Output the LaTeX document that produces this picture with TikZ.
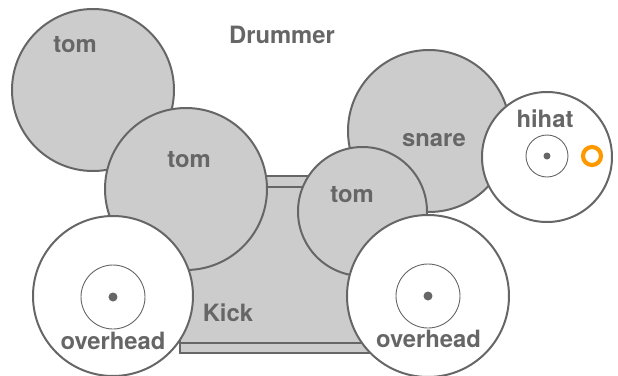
\documentclass[tikz,border=0pt]{standalone}
\usepackage{fontspec}
\setmainfont{TeX Gyre Heros}
\usetikzlibrary{calc}
\definecolor{dgrey}{HTML}{666666}
\definecolor{lgrey}{HTML}{CCCCCC}
\definecolor{orng}{HTML}{FF9900}
\begin{document}
\begin{tikzpicture}[x=0.5pt,y=-0.5pt,
  drum/.style={circle,draw=dgrey,fill=lgrey,line width=1pt,inner sep=0pt,outer sep=0pt},
  cym/.style={circle,draw=dgrey,fill=white,line width=1pt,inner sep=0pt,outer sep=0pt},
  bell/.style={circle,draw=dgrey,line width=0.45pt,inner sep=0pt},
  dotc/.style={circle,fill=dgrey,inner sep=0pt},
  lbl/.style={text=dgrey,font=\fontsize{11.9}{14}\selectfont\bfseries,anchor=base,inner sep=0pt}]
\useasboundingbox (0,0) rectangle (618,376);
% kick drum
\node[draw=dgrey,fill=lgrey,line width=1pt,inner sep=0pt,outer sep=0pt,
  minimum width=96pt,minimum height=88.5pt] (kick) at (276,264.5) {};
\coordinate (k1) at ($(kick.north west)+(0,11)$);
\coordinate (k2) at ($(kick.north east)+(0,11)$);
\coordinate (k3) at ($(kick.south west)+(0,-10)$);
\coordinate (k4) at ($(kick.south east)+(0,-10)$);
\draw[dgrey,line width=0.8pt] (k1) -- (k2);
\draw[dgrey,line width=0.8pt] (k3) -- (k4);
% drums
\node[drum,minimum size=81pt] (tom1) at (93,90) {};
\node[drum,minimum size=81pt] (tom2) at (186,189) {};
\node[drum,minimum size=81pt] (snare) at (429,131) {};
\node[drum,minimum size=64.5pt] (tom3) at (362.5,211.5) {};
% hihat
\node[cym,minimum size=65pt] (hihat) at (547,157) {};
\node[bell,minimum size=21pt] (hbell) at (547,156) {};
\node[dotc,minimum size=3.5pt] (hdot) at (547,156) {};
\node[circle,draw=orng,line width=2.1pt,inner sep=0pt,minimum size=9pt] (pedal) at (592,156) {};
% overheads
\node[cym,minimum size=80pt] (ohL) at (113,296) {};
\node[bell,minimum size=32pt] (ohLbell) at (113,297) {};
\node[dotc,minimum size=4.5pt] (ohLdot) at (113,297) {};
\node[cym,minimum size=81pt] (ohR) at (428,296) {};
\node[bell,minimum size=32pt] (ohRbell) at (428,296) {};
\node[dotc,minimum size=4.5pt] (ohRdot) at (428,296) {};
% labels
\node[lbl] (tDrummer) at (282,43) {Drummer};
\node[lbl] (ttom1) at (75,52) {tom};
\node[lbl] (ttom2) at (189,167) {tom};
\node[lbl] (ttom3) at (352,202) {tom};
\node[lbl] (tsnare) at (434,146) {snare};
\node[lbl] (thihat) at (545,127) {hihat};
\node[lbl] (tkick) at (228,321) {Kick};
\node[lbl] (tohL) at (113,349) {overhead};
\node[lbl] (tohR) at (428.5,347) {overhead};
\end{tikzpicture}
\end{document}
